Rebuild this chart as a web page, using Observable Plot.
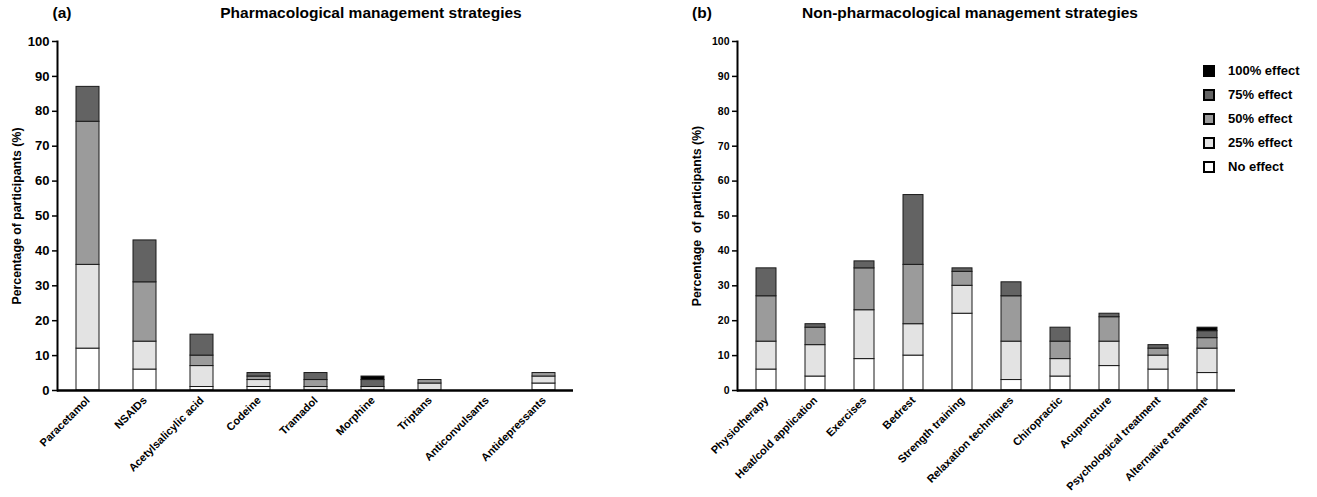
<!DOCTYPE html>
<html><head><meta charset="utf-8">
<script src="https://cdn.jsdelivr.net/npm/d3@7"></script>
<script src="https://cdn.jsdelivr.net/npm/@observablehq/plot@0.6"></script>
<style>
body{margin:0;background:#fff;font-family:"Liberation Sans",Arial,sans-serif;}
#wrap{position:relative;width:1317px;height:497px;overflow:hidden;background:#fff}
.panel{position:absolute;top:0}
.panel svg{font-family:"Liberation Sans",Arial,sans-serif;font-weight:bold;overflow:visible}
.t{position:absolute;font-weight:bold;white-space:nowrap;transform:translate(-50%,-50%);color:#000}
.ytitle{position:absolute;font-weight:bold;white-space:pre;transform:translate(-50%,-50%) rotate(-90deg);font-size:12.3px;color:#000}
#left g[aria-label="y-axis tick label"] text{font-size:13px}
#right g[aria-label="y-axis tick label"] text{font-size:10.5px}
g[aria-label="x-axis tick label"] text{font-size:11px}
.leg{position:absolute;left:1203px;font-weight:bold;font-size:13px}
.leg .sw{position:absolute;left:0;top:-6px;width:8px;height:8px;border:2px solid #000}
.leg .lt{position:absolute;left:25px;top:-8px;white-space:nowrap}
</style></head>
<body>
<div id="wrap">
  <div class="t" style="left:62px;top:13px;font-size:15.5px">(a)</div>
  <div class="t" style="left:371px;top:13px;font-size:15.5px">Pharmacological management strategies</div>
  <div class="t" style="left:702px;top:13px;font-size:15.5px">(b)</div>
  <div class="t" style="left:970px;top:13px;font-size:15.5px">Non-pharmacological management strategies</div>
  <div class="ytitle" style="left:17px;top:216px">Percentage of participants (%)</div>
  <div class="ytitle" style="left:697px;top:216px">Percentage  of participants (%)</div>
  <div id="left" class="panel" style="left:0px"></div>
  <div id="right" class="panel" style="left:658px"></div>
  <div id="legend"></div>
</div>
<script>
const levels = ["No effect", "25% effect", "50% effect", "75% effect", "100% effect"];
const levelColors = ["#ffffff", "#e3e3e3", "#9b9b9b", "#636363", "#000000"];
const yTicks = [0, 10, 20, 30, 40, 50, 60, 70, 80, 90, 100];

const pharmCategories = ["Paracetamol", "NSAIDs", "Acetylsalicylic acid", "Codeine", "Tramadol", "Morphine", "Triptans", "Anticonvulsants", "Antidepressants"];
const pharmNoEffect = [12, 6, 1, 1, 0, 0, 0, 0, 2];
const pharm25 = [24, 8, 6, 2, 1, 1, 2, 0, 2];
const pharm50 = [41, 17, 3, 1, 2, 0, 1, 0, 1];
const pharm75 = [10, 12, 6, 1, 2, 2, 0, 0, 0];
const pharm100 = [0, 0, 0, 0, 0, 1, 0, 0, 0];

const nonPharmCategories = ["Physiotherapy", "Heat/cold application", "Exercises", "Bedrest", "Strength training", "Relaxation techniques", "Chiropractic", "Acupuncture", "Psychological treatment", "Alternative treatment\u1d43"];
const nonPharmNoEffect = [6, 4, 9, 10, 22, 3, 4, 7, 6, 5];
const nonPharm25 = [8, 9, 14, 9, 8, 11, 5, 7, 4, 7];
const nonPharm50 = [13, 5, 12, 17, 4, 13, 5, 7, 2, 3];
const nonPharm75 = [8, 1, 2, 20, 1, 4, 4, 1, 1, 2];
const nonPharm100 = [0, 0, 0, 0, 0, 0, 0, 0, 0, 1];

function toRows(cats, series) {
  const rows = [];
  cats.forEach((c, i) => {
    series.forEach((s, j) => {
      if (s[i] > 0) rows.push({cat: c, level: levels[j], value: s[i]});
    });
  });
  return rows;
}

function chart(cats, series, opts) {
  return Plot.plot({
    width: opts.width,
    height: 497,
    marginLeft: opts.ml,
    marginRight: opts.mr,
    marginTop: 41,
    marginBottom: 107,
    x: {domain: cats, paddingInner: 0.6, paddingOuter: 0.3, label: null},
    y: {domain: [0, 100], label: null},
    color: {domain: levels, range: levelColors},
    marks: [
      Plot.barY(toRows(cats, series), {x: "cat", y: "value", fill: "level", stroke: "#1a1a1a", strokeWidth: 1, order: levels}),
      Plot.axisY({ticks: yTicks, tickSize: 5, tickPadding: 3, label: null, strokeWidth: 1.5}),
      Plot.axisX({tickSize: 0, tickRotate: -45, tickPadding: 8, label: null}),
      Plot.frame({anchor: "left", strokeWidth: 2}),
      Plot.ruleY([0], {strokeWidth: 2.5})
    ]
  });
}

document.getElementById("left").append(chart(pharmCategories, [pharmNoEffect, pharm25, pharm50, pharm75, pharm100], {width: 658, ml: 57, mr: 85}));
document.getElementById("right").append(chart(nonPharmCategories, [nonPharmNoEffect, nonPharm25, nonPharm50, nonPharm75, nonPharm100], {width: 659, ml: 79, mr: 82}));

const leg = document.getElementById("legend");
const legY = [167, 143, 119, 95, 71];
levels.forEach((l, i) => {
  const d = document.createElement("div");
  d.className = "leg";
  d.style.top = legY[i] + "px";
  d.innerHTML = `<div class="sw" style="background:${levelColors[i]}"></div><div class="lt">${l}</div>`;
  leg.append(d);
});
</script>
</body></html>
